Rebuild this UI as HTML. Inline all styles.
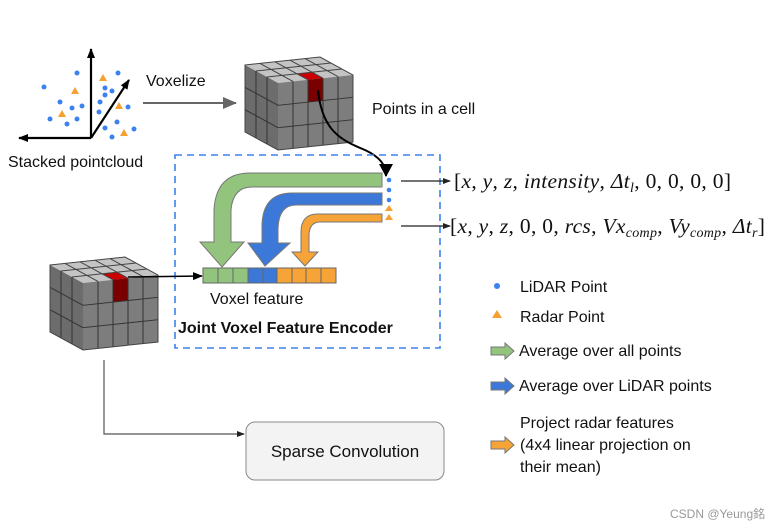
<!DOCTYPE html>
<html><head><meta charset="utf-8"><style>
html,body{margin:0;padding:0;background:#fff;}
svg{display:block;}
text{font-family:"Liberation Sans",sans-serif;fill:#111;}
.m{font-family:"Liberation Serif",serif;font-size:21.5px;letter-spacing:0.3px;}
.i{font-style:italic;}
</style></head><body>
<svg width="777" height="529" viewBox="0 0 777 529" xmlns="http://www.w3.org/2000/svg">
<defs>
<marker id="ah" markerWidth="10" markerHeight="10" refX="9" refY="5" orient="auto" markerUnits="userSpaceOnUse"><path d="M0,1 L10,5 L0,9 z" fill="#000"/></marker>
<marker id="ahs" markerWidth="8" markerHeight="8" refX="7" refY="4" orient="auto" markerUnits="userSpaceOnUse"><path d="M0,1 L8,4 L0,7 z" fill="#222"/></marker>
<marker id="ahg" markerWidth="14" markerHeight="12" refX="13" refY="6" orient="auto" markerUnits="userSpaceOnUse"><path d="M0,0 L14,6 L0,12 z" fill="#666"/></marker>
<marker id="ahb" markerWidth="14" markerHeight="14" refX="12" refY="7" orient="auto" markerUnits="userSpaceOnUse"><path d="M0,0 L13,7 L0,14 z" fill="#000"/></marker>
<g id="cube">
  <g transform="matrix(75,-8,33,18,0,8)">
    <rect x="0" y="0" width="1" height="1" fill="#c4c4c4"/>
    <rect x="0.4" y="0.667" width="0.2" height="0.333" fill="#cc0000"/>
    <path vector-effect="non-scaling-stroke" stroke="#444" fill="none" d="M0.2,0V1M0.4,0V1M0.6,0V1M0.8,0V1M0,0.333H1M0,0.667H1"/>
  </g>
  <g transform="matrix(33,18,0,67,0,8)">
    <rect x="0" y="0" width="1" height="1" fill="#6c6c6c"/>
    <path vector-effect="non-scaling-stroke" stroke="#333" fill="none" d="M0.333,0V1M0.667,0V1M0,0.333H1M0,0.667H1"/>
  </g>
  <g transform="matrix(75,-8,0,67,33,26)">
    <rect x="0" y="0" width="1" height="1" fill="#7d7d7d"/>
    <rect x="0.4" y="0" width="0.2" height="0.333" fill="#7a0000"/>
    <path vector-effect="non-scaling-stroke" stroke="#333" fill="none" d="M0.2,0V1M0.4,0V1M0.6,0V1M0.8,0V1M0,0.333H1M0,0.667H1"/>
  </g>
  <path d="M0,8 L75,0 L108,18 L108,85 L33,93 L0,75 z" fill="none" stroke="#444" stroke-width="1"/>
</g>
</defs>

<g fill="#3b82f0">
<circle cx="77" cy="73" r="2.5"/><circle cx="44" cy="87" r="2.5"/><circle cx="60" cy="102" r="2.5"/><circle cx="72" cy="108" r="2.5"/><circle cx="82" cy="106" r="2.5"/><circle cx="50" cy="119" r="2.5"/><circle cx="67" cy="124" r="2.5"/><circle cx="77" cy="119" r="2.5"/><circle cx="118" cy="73" r="2.5"/><circle cx="105" cy="88" r="2.5"/><circle cx="112" cy="91" r="2.5"/><circle cx="105" cy="95" r="2.5"/><circle cx="100" cy="102" r="2.5"/><circle cx="99" cy="112" r="2.5"/><circle cx="128" cy="107" r="2.5"/><circle cx="105" cy="128" r="2.5"/><circle cx="117" cy="122" r="2.5"/><circle cx="134" cy="129" r="2.5"/><circle cx="112" cy="137" r="2.5"/>
</g>
<g fill="#f5a030">
<path d="M103,74 l4,7 h-8z"/><path d="M75,87 l4,7 h-8z"/><path d="M62,110 l4,7 h-8z"/><path d="M119,102 l4,7 h-8z"/><path d="M124,129 l4,7 h-8z"/>
</g>
<g stroke="#000" stroke-width="2.2" fill="none">
<line x1="91" y1="138" x2="91" y2="49" marker-end="url(#ah)"/>
<line x1="91" y1="138" x2="19" y2="138" marker-end="url(#ah)"/>
<line x1="91" y1="138" x2="129" y2="80" marker-end="url(#ah)"/>
</g>
<text x="8" y="167" font-size="16">Stacked pointcloud</text>
<text x="146" y="86" font-size="16">Voxelize</text>
<line x1="143" y1="103" x2="236" y2="103" stroke="#666" stroke-width="2" marker-end="url(#ahg)"/>

<use href="#cube" x="245" y="57"/>
<text x="372" y="114" font-size="16">Points in a cell</text>
<path d="M318,90 C322,130 340,140 365,150 C380,157 386,165 386,176" stroke="#000" stroke-width="2" fill="none" marker-end="url(#ahb)"/>

<rect x="175" y="155" width="265" height="193" fill="none" stroke="#3b82f0" stroke-width="1.6" stroke-dasharray="7,5"/>

<path d="M382,173 L250,173 Q216,173 214,210 L214,242 L200,242 L222,267 L244,242 L231,242 L231,210 Q233,187 252,187 L382,187 z" fill="#93c47d" stroke="#777" stroke-width="1"/>
<path d="M382,193 L292,193 Q263,193 262,225 L262,243 L248,243 L265,266 L290,243 L278,243 L278,228 Q279,205 296,205 L382,205 z" fill="#3c78d8" stroke="#777" stroke-width="1"/>
<path d="M382,214 L318,214 Q301,214 301,232 L301,252 L292,252 L305,266 L318,252 L309,252 L309,234 Q310,222 320,222 L382,222 z" fill="#f6a338" stroke="#777" stroke-width="1"/>

<g fill="#3b82f0"><circle cx="389" cy="180" r="2.3"/><circle cx="389" cy="190" r="2.3"/><circle cx="389" cy="200" r="2.3"/></g>
<g fill="#f5a030"><path d="M389,205 l4,6 h-8z"/><path d="M389,214 l4,6 h-8z"/></g>
<line x1="401" y1="181" x2="450" y2="181" stroke="#222" stroke-width="1.2" marker-end="url(#ahs)"/>
<line x1="401" y1="226" x2="450" y2="226" stroke="#222" stroke-width="1.2" marker-end="url(#ahs)"/>
<text class="m" x="454" y="188">[<tspan class="i">x</tspan>, <tspan class="i">y</tspan>, <tspan class="i">z</tspan>, <tspan class="i">intensity</tspan>, <tspan class="i">Δt</tspan><tspan class="i" font-size="14" dy="4">l</tspan><tspan dy="-4">, 0, 0, 0, 0]</tspan></text>
<text class="m" x="450" y="233">[<tspan class="i">x</tspan>, <tspan class="i">y</tspan>, <tspan class="i">z</tspan>, 0, 0, <tspan class="i">rcs</tspan>, <tspan class="i">Vx</tspan><tspan class="i" font-size="14" dy="4">comp</tspan><tspan dy="-4">, </tspan><tspan class="i">Vy</tspan><tspan class="i" font-size="14" dy="4">comp</tspan><tspan dy="-4">, </tspan><tspan class="i">Δt</tspan><tspan class="i" font-size="14" dy="4">r</tspan><tspan dy="-4">]</tspan></text>

<g stroke="#666" stroke-width="1">
<rect x="203" y="268" width="15" height="15" fill="#93c47d"/><rect x="218" y="268" width="15" height="15" fill="#93c47d"/><rect x="233" y="268" width="15" height="15" fill="#93c47d"/>
<rect x="248" y="268" width="15" height="15" fill="#3c78d8"/><rect x="263" y="268" width="14" height="15" fill="#3c78d8"/>
<rect x="277" y="268" width="15" height="15" fill="#f6a338"/><rect x="292" y="268" width="14" height="15" fill="#f6a338"/><rect x="306" y="268" width="15" height="15" fill="#f6a338"/><rect x="321" y="268" width="15" height="15" fill="#f6a338"/>
</g>
<text x="210" y="304" font-size="16">Voxel feature</text>
<text x="178" y="333" font-size="16" font-weight="bold">Joint Voxel Feature Encoder</text>

<use href="#cube" x="50" y="257"/>
<line x1="128" y1="277" x2="202" y2="276" stroke="#000" stroke-width="1.6" marker-end="url(#ah)"/>

<path d="M104,360 V434 H244" stroke="#555" stroke-width="1.2" fill="none" marker-end="url(#ahs)"/>
<rect x="246" y="422" width="198" height="58" rx="9" fill="#f3f3f3" stroke="#888" stroke-width="1"/>
<text x="345" y="457" font-size="17" text-anchor="middle">Sparse Convolution</text>

<circle cx="497" cy="286" r="3" fill="#3b82f0"/>
<text x="520" y="292" font-size="16">LiDAR Point</text>
<path d="M497,310 l5,8 h-10z" fill="#f5a030"/>
<text x="520" y="322" font-size="16">Radar Point</text>
<path d="M491,347 h14 v-4 l9,8 l-9,8 v-4 h-14z" fill="#93c47d" stroke="#777"/>
<text x="519" y="356" font-size="16">Average over all points</text>
<path d="M491,382 h14 v-4 l9,8 l-9,8 v-4 h-14z" fill="#3c78d8" stroke="#777"/>
<text x="519" y="391" font-size="16">Average over LiDAR points</text>
<path d="M491,441 h14 v-4 l9,8 l-9,8 v-4 h-14z" fill="#f6a338" stroke="#777"/>
<text x="520" y="428" font-size="16">Project radar features</text>
<text x="520" y="450" font-size="16">(4x4 linear projection on</text>
<text x="520" y="472" font-size="16">their mean)</text>

<text x="670" y="518" font-size="12" style="fill:#999">CSDN @Yeung<tspan font-family="Noto Sans CJK SC">銘</tspan></text>
</svg>
</body></html>
